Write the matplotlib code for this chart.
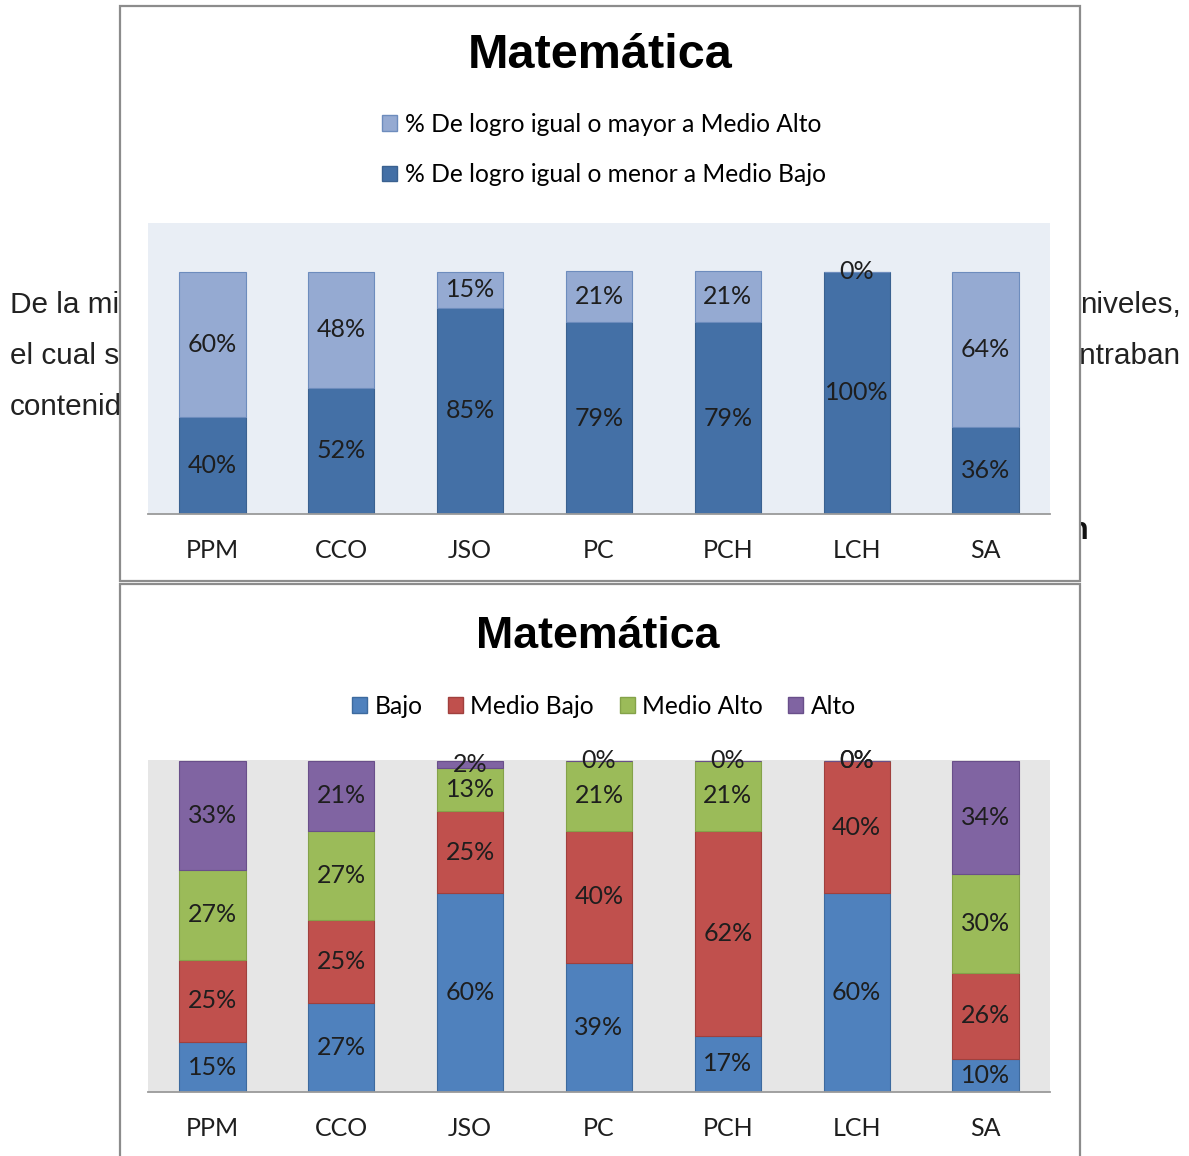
import matplotlib
matplotlib.use('Agg')
import matplotlib.pyplot as plt
from matplotlib.patches import Rectangle, Patch
import numpy as np

# ---------------- data ----------------
categories = ['PPM', 'CCO', 'JSO', 'PC', 'PCH', 'LCH', 'SA']
title = 'Matemática'

# top chart
top_low = [40, 52, 85, 79, 79, 100, 36]     # % igual o menor a Medio Bajo
top_high = [60, 48, 15, 21, 21, 0, 64]      # % igual o mayor a Medio Alto
top_labels = ['% De logro igual o mayor a Medio Alto',
              '% De logro igual o menor a Medio Bajo']

# bottom chart
bajo = [15, 27, 60, 39, 17, 60, 10]
medio_bajo = [25, 25, 25, 40, 62, 40, 26]
medio_alto = [27, 27, 13, 21, 21, 0, 30]
alto = [33, 21, 2, 0, 0, 0, 34]
bottom_labels = ['Bajo', 'Medio Bajo', 'Medio Alto', 'Alto']

# background document fragments
doc_left = ['De la misma', 'el cual se', 'contenidos']
doc_right = ['niveles,', 'encontraban']

# ---------------- figure ----------------
W, H = 1189, 1156
fig = plt.figure(figsize=(W / 100, H / 100), dpi=100)
fig.patch.set_facecolor('white')

bg = fig.add_axes([0, 0, 1, 1], zorder=-5)
bg.set_xlim(0, W)
bg.set_ylim(H, 0)
bg.axis('off')

doc_font = dict(family='Liberation Sans', fontsize=21.4, color='#222222', zorder=1)
for i, t in enumerate(doc_left):
    bg.text(10, 305 + 51 * i, t, ha='left', va='center', **doc_font)
for i, t in enumerate(doc_right):
    bg.text(1181, 305 + 51 * i, t, ha='right', va='center', **doc_font)
bg.text(1088, 531, 'n', ha='right', va='center', fontweight='bold',
        family='Liberation Sans', fontsize=22, color='#111111', zorder=1)

# panels (white chart areas with gray border)
bg.add_patch(Rectangle((119.5, 5.5), 960.5, 575, facecolor='white',
                       edgecolor='#8c8c8c', lw=1.6, zorder=5))
bg.add_patch(Rectangle((119.5, 584), 960, 620, facecolor='white',
                       edgecolor='#8c8c8c', lw=1.6, zorder=5))

LBL = dict(family='Lato', fontsize=18, color='#1e1e1e')
x = np.arange(len(categories))
bw = 0.515


def style_axes(ax, face, ylim):
    ax.set_facecolor(face)
    ax.set_xlim(-0.5, len(categories) - 0.5)
    ax.set_ylim(*ylim)
    for s in ['top', 'left', 'right']:
        ax.spines[s].set_visible(False)
    ax.spines['bottom'].set_color('#9a9a9a')
    ax.spines['bottom'].set_linewidth(1.3)
    ax.set_yticks([])
    ax.set_xticks(x)
    ax.set_xticklabels(categories, **LBL)
    ax.tick_params(axis='x', length=0, pad=18)


def add_labels(ax, bars, vals):
    ax.bar_label(bars, labels=[f'{v}%' for v in vals], label_type='center', **LBL)


# ---------- top chart ----------
ax1 = fig.add_axes([148 / W, 1 - 514 / H, 902 / W, 291 / H], zorder=2)
style_axes(ax1, '#E9EEF5', (0, 120))
c_dark, c_light = '#4470A6', '#95AAD2'
b_low = ax1.bar(x, top_low, bw, color=c_dark, edgecolor='#3a6190', lw=0.8)
b_high = ax1.bar(x, top_high, bw, bottom=top_low, color=c_light, edgecolor='#6d8cbd', lw=0.8)
add_labels(ax1, b_low, top_low)
add_labels(ax1, b_high, top_high)

fig.text(600 / W, 1 - 55 / H, title, ha='center', va='center', fontsize=35,
         fontweight='bold', family='Liberation Sans', color='black')
fig.legend([Patch(facecolor=c_light, edgecolor='#6d8cbd'),
            Patch(facecolor=c_dark, edgecolor='#3a6190')],
           top_labels, loc='center', bbox_to_anchor=(604 / W, 1 - 149.5 / H),
           frameon=False, prop=dict(family='Lato', size=17.7),
           handlelength=0.6, handleheight=0.6, handletextpad=0.3,
           labelspacing=1.12, borderpad=0)

# ---------- bottom chart ----------
ax2 = fig.add_axes([148 / W, 1 - 1092 / H, 902 / W, 332 / H], zorder=2)
style_axes(ax2, '#E6E6E6', (0, 100.3))
cols = ['#4F81BD', '#C0504D', '#9BBB59', '#8064A2']
edges = ['#3d6a9e', '#a0403d', '#84a249', '#694f8a']
series = [bajo, medio_bajo, medio_alto, alto]
bottom = np.zeros(len(categories))
handles = []
for vals, c, e in zip(series, cols, edges):
    bars = ax2.bar(x, vals, bw, bottom=bottom, color=c, edgecolor=e, lw=0.8)
    add_labels(ax2, bars, vals)
    bottom += np.array(vals)
    handles.append(Patch(facecolor=c, edgecolor=e))

fig.text(598 / W, 1 - 636 / H, title, ha='center', va='center', fontsize=32.2,
         fontweight='bold', family='Liberation Sans', color='black')
fig.legend(handles, bottom_labels, loc='center', bbox_to_anchor=(604 / W, 1 - 706 / H),
           ncol=4, frameon=False, prop=dict(family='Lato', size=17.7),
           handlelength=0.6, handleheight=0.6, handletextpad=0.3,
           columnspacing=1.05, borderpad=0)

fig.savefig('out.png', dpi=100, facecolor='white')
